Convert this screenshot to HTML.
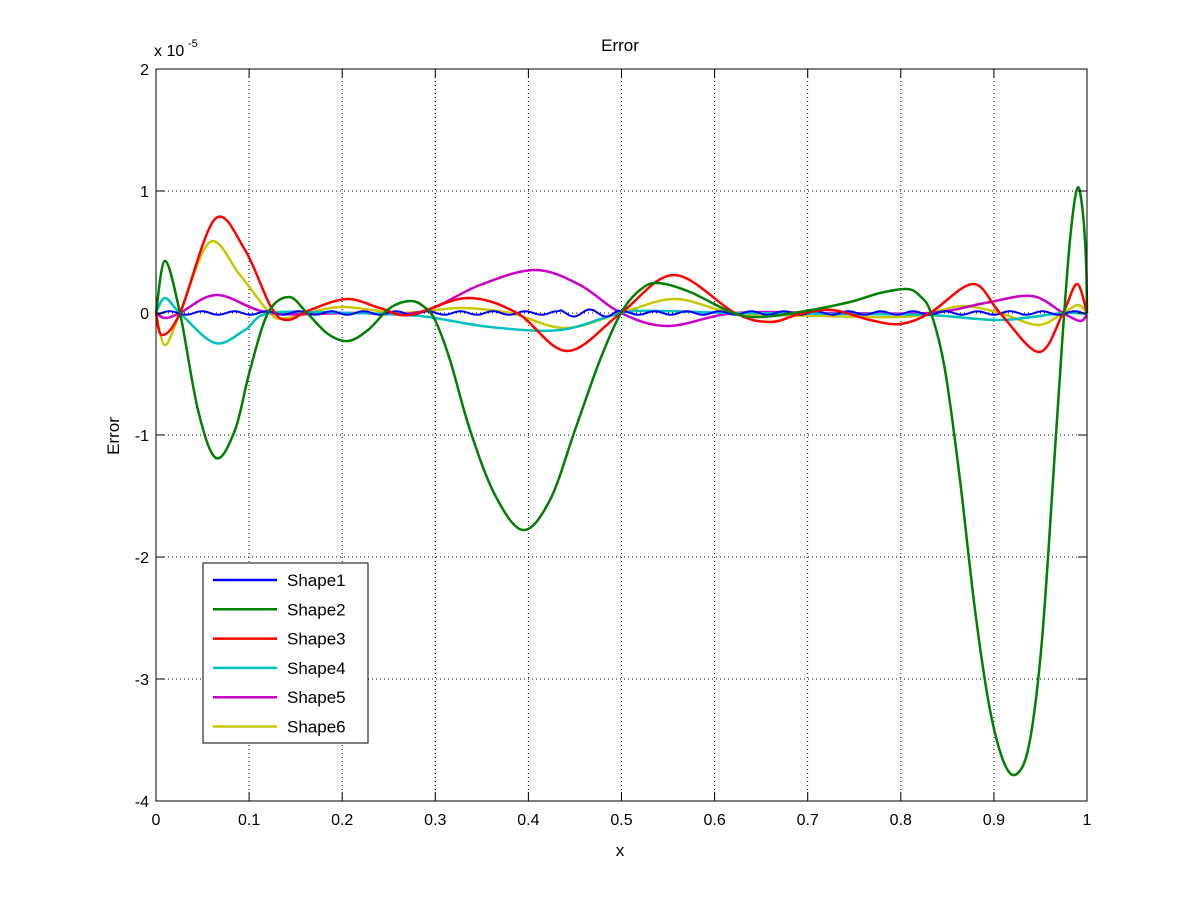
<!DOCTYPE html>
<html><head><meta charset="utf-8"><style>
body{margin:0;background:#fff;}
text{font-family:"Liberation Sans",Arial,sans-serif;}
</style></head><body>
<svg id="s" width="1201" height="901" xmlns="http://www.w3.org/2000/svg">
<rect width="1201" height="901" fill="#fff"/>
<g id="grid" stroke="#000" stroke-width="1" stroke-dasharray="1,3"></g>
<g id="curves" fill="none" stroke-width="2.5" stroke-linejoin="round"></g>
<rect x="156" y="69" width="931" height="732" fill="none" stroke="#000" stroke-width="1"/>
<g id="ticks" stroke="#000" stroke-width="1"></g>
<g id="labels" font-size="16" fill="#000"></g>
<text x="620" y="51" font-size="17" text-anchor="middle">Error</text>
<text x="620" y="856" font-size="17" text-anchor="middle">x</text>
<text x="0" y="0" font-size="17" text-anchor="middle" transform="translate(119,436) rotate(-90)">Error</text>
<text x="154" y="56" font-size="16">x 10</text><text x="188" y="47" font-size="11">-5</text>
<rect x="203" y="563" width="165" height="180" fill="#fff" stroke="#000"/>
<g id="legend" font-size="17"></g>
</svg>
<script>
var X0=156,X1=1087,Y0=313,YS=122;
var g=document.getElementById('grid'),t=document.getElementById('ticks'),l=document.getElementById('labels');
var NS='http://www.w3.org/2000/svg';
function el(p,n,a,txt){var e=document.createElementNS(NS,n);for(var k in a)e.setAttribute(k,a[k]);if(txt!=null)e.textContent=txt;p.appendChild(e);return e;}
for(var i=0;i<=10;i++){var x=X0+(X1-X0)*i/10;
 if(i>0&&i<10)el(g,'line',{x1:x,y1:69,x2:x,y2:801});
 el(t,'line',{x1:x,y1:801,x2:x,y2:792});el(t,'line',{x1:x,y1:69,x2:x,y2:78});
 el(l,'text',{x:x,y:825,'text-anchor':'middle'},i==0?'0':i==10?'1':(i/10).toFixed(1));}
for(var v=-4;v<=2;v++){var y=Y0-v*YS;
 if(v>-4&&v<2)el(g,'line',{x1:X0,y1:y,x2:X1,y2:y});
 el(t,'line',{x1:X0,y1:y,x2:X0+9,y2:y});el(t,'line',{x1:X1,y1:y,x2:X1-9,y2:y});
 el(l,'text',{x:149,y:y+6,'text-anchor':'end'},String(v));}
function cr(p){var d='M'+p[0][0]+','+p[0][1];for(var i=0;i<p.length-1;i++){var a=p[Math.max(0,i-1)],b=p[i],c=p[i+1],e=p[Math.min(p.length-1,i+2)];
 d+=' C'+(b[0]+(c[0]-a[0])/6).toFixed(1)+','+(b[1]+(c[1]-a[1])/6).toFixed(1)+' '+(c[0]-(e[0]-b[0])/6).toFixed(1)+','+(c[1]-(e[1]-b[1])/6).toFixed(1)+' '+c[0]+','+c[1];}return d;}
var C=document.getElementById('curves');
var series=[
['#c8c800',[[156,313],[165,345],[180,313],[210,242],[240,275],[270,313],[287,318],[340,307],[400,313],[460,308],[510,313],[565,328],[621,313],[675,299],[735,313],[820,316],[900,317],[930,313],[963,306],[1000,313],[1038,325],[1063,313],[1078,305],[1087,313]]],
['#c800c8',[[156,313],[165,318],[180,313],[217,295],[270,313],[350,313],[420,312],[480,285],[535,270],[580,285],[621,313],[668,326],[735,313],[830,313],[930,313],[985,303],[1032,296],[1063,313],[1080,321],[1087,315]]],
['#00c0c0',[[156,313],[165,298],[180,313],[215,343],[245,330],[270,313],[350,313],[420,316],[490,327],[560,330],[621,313],[660,311],[735,313],[850,314],[930,315],[1000,320],[1063,313],[1087,314]]],
['#0000ff',null],
['#ff0000',[[156,313],[162,335],[180,313],[215,219],[245,250],[271,307],[287,320],[310,310],[347,299],[380,308],[410,315],[467,298],[517,313],[567,351],[621,313],[674,275],[735,313],[770,322],[800,314],[833,310],[870,320],[900,324],[930,313],[973,284],[1000,313],[1039,352],[1063,313],[1077,284],[1087,313]]],
['#008000',[[156,313],[165,261],[180,313],[198,410],[216,458],[235,430],[250,370],[268,313],[289,297],[307,313],[328,334],[348,341],[368,330],[390,308],[410,301],[423,306],[435,320],[450,360],[470,430],[495,495],[523,530],[550,500],[575,430],[600,360],[621,313],[640,290],[658,283],[690,292],[733,313],[760,317],[800,312],[850,302],[880,293],[907,289],[920,296],[931,313],[945,370],[960,480],[975,610],[990,710],[1005,765],[1018,773],[1030,740],[1042,640],[1055,450],[1063,330],[1070,240],[1077,189],[1082,205],[1086,260],[1087,313]]]
];
var b=[];for(var x=156;x<=1087;x+=3){var n=Math.sin(x*1.9)*1.8*((x>560&&x<620)?2:1);b.push([x,(Y0+n).toFixed(1)]);}
series.forEach(function(s){if(s[1])el(C,'path',{d:cr(s[1]),stroke:s[0]});else el(C,'polyline',{points:b.map(function(p){return p.join(',')}).join(' '),stroke:s[0],'stroke-width':2});});
var L=document.getElementById('legend');
[['Shape1','#0000ff'],['Shape2','#008000'],['Shape3','#ff0000'],['Shape4','#00c0c0'],['Shape5','#c800c8'],['Shape6','#c8c800']].forEach(function(e,i){var y=580+i*29.3;
 el(L,'line',{x1:213,y1:y,x2:277,y2:y,stroke:e[1],'stroke-width':2.5});el(L,'text',{x:287,y:y+6},e[0]);});
</script>
</body></html>
